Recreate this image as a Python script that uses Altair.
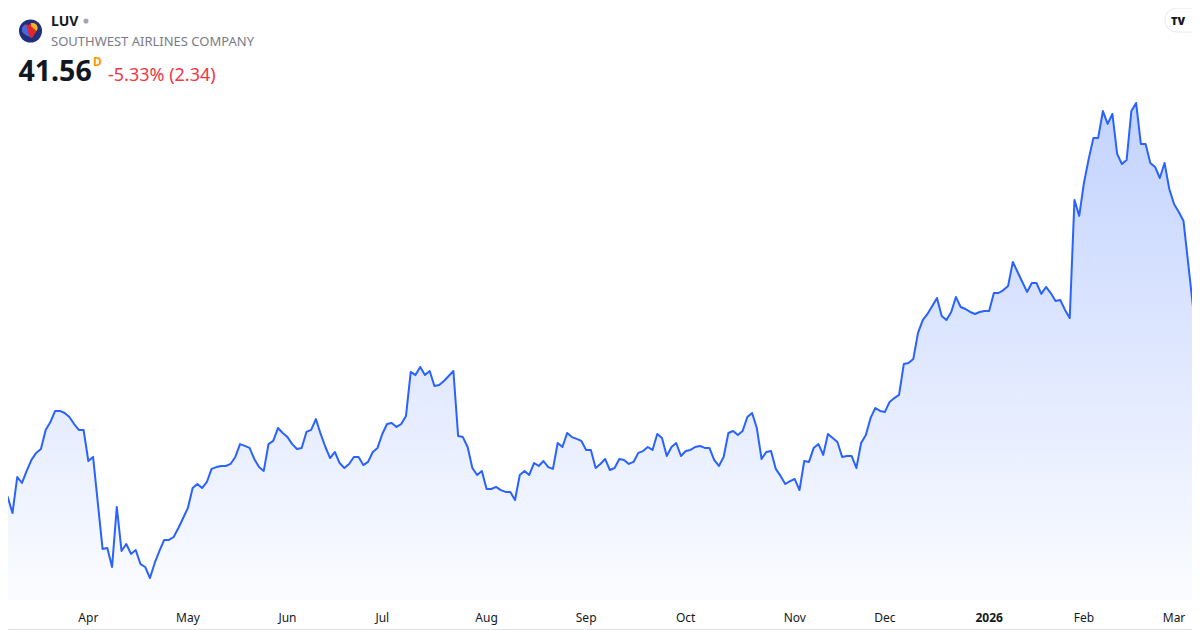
import altair as alt
import pandas as pd

# ---------------- data ----------------
ticker = "LUV"
company = "SOUTHWEST AIRLINES COMPANY"
last_price = "41.56"
session_flag = "D"
change_text = "-5.33% (2.34)"

start_date = "2025-03-06"
end_date = "2026-03-06"
market_holidays = ["2025-04-18", "2025-05-26", "2025-06-19", "2025-07-04", "2025-09-01",
                   "2025-11-27", "2025-12-25", "2026-01-01", "2026-01-19", "2026-02-16"]

month_labels = ["Apr", "May", "Jun", "Jul", "Aug", "Sep", "Oct", "Nov", "Dec", "2026", "Feb", "Mar"]
bold_labels = ["2026"]

prices = [
    31.45, 31.23, 30.36, 32.32, 32.00, 32.65, 33.25, 33.63, 33.84, 34.88,
    35.31, 35.91, 35.91, 35.80, 35.58, 35.20, 34.88, 34.88, 33.19, 33.41,
    30.91, 28.41, 28.46, 27.43, 30.69, 28.30, 28.68, 28.14, 28.35, 27.59,
    27.43, 26.83, 27.65, 28.30, 28.90, 28.90, 29.06, 29.55, 30.09, 30.64,
    31.72, 31.94, 31.72, 32.05, 32.76, 32.86, 32.92, 32.92, 33.03, 33.41,
    34.11, 34.01, 33.90, 33.30, 32.86, 32.65, 34.11, 34.28, 34.98, 34.71,
    34.49, 34.11, 33.84, 33.90, 34.77, 34.88, 35.47, 34.66, 33.95, 33.35,
    33.68, 33.08, 32.81, 33.03, 33.41, 33.41, 32.97, 33.14, 33.68, 33.90,
    34.66, 35.20, 35.26, 35.04, 35.20, 35.64, 38.03, 37.86, 38.30, 37.86,
    38.08, 37.27, 37.32, 37.54, 37.81, 38.08, 34.55, 34.49, 33.95, 32.81,
    32.43, 32.65, 31.67, 31.67, 31.78, 31.61, 31.51, 31.51, 31.07, 32.43,
    32.65, 32.43, 33.08, 32.92, 33.19, 32.86, 32.76, 34.17, 33.95, 34.71,
    34.49, 34.39, 34.28, 33.79, 33.79, 32.81, 33.03, 33.30, 32.70, 32.81,
    33.30, 33.25, 33.03, 33.14, 33.63, 33.73, 33.95, 33.79, 34.66, 34.44,
    33.46, 33.95, 34.17, 33.46, 33.73, 33.79, 33.95, 34.01, 33.90, 33.90,
    33.25, 32.92, 33.41, 34.71, 34.82, 34.60, 34.82, 35.58, 35.80, 34.98,
    33.30, 33.68, 33.73, 32.76, 32.38, 31.94, 32.10, 32.21, 31.61, 33.19,
    33.14, 33.90, 34.11, 33.52, 34.66, 34.44, 34.22, 33.41, 33.46, 33.46,
    32.81, 34.17, 34.60, 35.53, 36.07, 35.91, 35.85, 36.40, 36.61, 36.78,
    38.46, 38.52, 38.73, 40.15, 40.85, 41.18, 41.61, 42.05, 41.07, 40.85,
    41.29, 42.10, 41.56, 41.45, 41.29, 41.18, 41.29, 41.34, 41.34, 42.32,
    42.32, 42.48, 42.70, 44.01, 43.46, 42.92, 42.38, 42.86, 42.86, 42.27,
    42.65, 42.32, 41.89, 41.94, 41.40, 40.96, 47.38, 46.51, 48.30, 49.60,
    50.75, 50.75, 52.21, 51.51, 52.05, 49.88, 49.33, 49.55, 52.21, 52.65,
    50.42, 50.42, 49.39, 49.17, 48.57, 49.39, 47.97, 47.16, 46.72, 46.23,
    43.90, 41.56,
]

# ---------------- tables ----------------
dates = pd.bdate_range(start_date, end_date)
dates = dates[~dates.isin(pd.to_datetime(market_holidays))]
n = min(len(dates), len(prices))
df = pd.DataFrame({"idx": list(range(n)), "date": dates[:n], "price": prices[:n]})

month_start = df.groupby(df["date"].dt.to_period("M"))["idx"].min().tolist()[1:]
ticks = pd.DataFrame({"idx": month_start[:len(month_labels)], "label": month_labels[:len(month_start)]})
ticks["bold"] = ticks["label"].isin(bold_labels)

# page has an 8px margin: the drawing sits at (8, 8)
W, H = 1184, 622
O = 8
FONT = "Noto Sans"
BLUE = "#2962ff"

Y_TOP = 57.81
xscale = alt.Scale(domain=[1.0546, 250.79], nice=False, zero=False)
yscale = alt.Scale(domain=[24.005, Y_TOP], nice=False, zero=False)

x_enc = alt.X("idx:Q", scale=xscale, axis=None)
y_enc = alt.Y("price:Q", scale=yscale, axis=None)

base = alt.Chart(df)

# gradient band from the highest price down to the baseline, then masked above the line
fill_band = base.mark_rect(
    color=alt.Gradient(
        gradient="linear",
        stops=[alt.GradientStop(color="#c3d3ff", offset=0),
               alt.GradientStop(color="#fbfcff", offset=1)],
        x1=0, x2=0, y1=0, y2=1,
    ),
    opacity=1,
).encode(
    x=alt.value(-2), x2=alt.value(W + 2),
    y=alt.Y("max(price):Q", scale=yscale, axis=None),
    y2=alt.value(600 - O),
)

mask = base.mark_area(color="white", opacity=1, interpolate="linear").encode(
    x=x_enc, y=y_enc, y2=alt.datum(Y_TOP + 1)
)

line = base.mark_line(color=BLUE, strokeWidth=2, strokeJoin="round").encode(x=x_enc, y=y_enc)

tick_norm = alt.Chart(ticks).transform_filter("!datum.bold").mark_text(
    font=FONT, fontSize=12, color="#131722", align="center", baseline="alphabetic"
).encode(x=alt.X("idx:Q", scale=xscale, axis=None), y=alt.value(621.5 - O), text="label:N")

tick_bold = alt.Chart(ticks).transform_filter("datum.bold").mark_text(
    font=FONT, fontSize=12, fontWeight="bold", color="#131722", align="center", baseline="alphabetic"
).encode(x=alt.X("idx:Q", scale=xscale, axis=None), y=alt.value(621.5 - O), text="label:N")


def label(txt, x, y, size, color, weight="normal", align="left"):
    return alt.Chart(pd.DataFrame({"t": [txt]})).mark_text(
        font=FONT, fontSize=size, fontWeight=weight, color=color, align=align,
        baseline="alphabetic",
    ).encode(x=alt.value(x - O), y=alt.value(y - O), text="t:N")


one = pd.DataFrame({"k": [0]})

logo_circle = alt.Chart(one).mark_point(
    shape="circle", filled=True, size=530, color="#1f2f7c", opacity=1
).encode(x=alt.value(30.5 - O), y=alt.value(31 - O))

heart_path = ("M0,0.85 C-0.55,0.35 -1,0.05 -1,-0.38 C-1,-0.78 -0.62,-1 -0.32,-1 "
              "C-0.12,-1 0,-0.85 0,-0.72 C0,-0.85 0.12,-1 0.32,-1 C0.62,-1 1,-0.78 1,-0.38 "
              "C1,0.05 0.55,0.35 0,0.85 Z")
logo_heart = alt.Chart(one).mark_point(
    shape=heart_path, filled=True, size=250, color="#e1262d", opacity=1, angle=345
).encode(x=alt.value(30.5 - O), y=alt.value(31.5 - O))

left_path = "M0,0.85 C-0.55,0.35 -1,0.05 -1,-0.38 C-1,-0.78 -0.62,-1 -0.32,-1 L-0.3,0.5 Z"
logo_left = alt.Chart(one).mark_point(
    shape=left_path, filled=True, size=250, color="#4169e1", opacity=1, angle=345
).encode(x=alt.value(30.5 - O), y=alt.value(31.5 - O))

right_path = "M0.32,-1 C0.62,-1 1,-0.78 1,-0.38 C1,-0.15 0.9,0.02 0.75,0.15 L0.25,-0.6 Z"
logo_right = alt.Chart(one).mark_point(
    shape=right_path, filled=True, size=250, color="#f5b51f", opacity=1, angle=345
).encode(x=alt.value(30.5 - O), y=alt.value(31.5 - O))

status_dot = alt.Chart(one).mark_point(
    shape="circle", filled=True, size=26, color="#a3a6af", opacity=1
).encode(x=alt.value(86 - O), y=alt.value(21 - O))

tv_pill = alt.Chart(one).mark_rect(
    fill="white", stroke="#e6e8ee", strokeWidth=1, cornerRadius=12
).encode(x=alt.value(1165 - O), x2=alt.value(1212 - O), y=alt.value(8 - O), y2=alt.value(32 - O))

tv_text = label("TV", 1178, 24.5, 11, "#131722", weight=900, align="center")

bottom_edge = alt.Chart(one).mark_rule(color="#e0e3eb", strokeWidth=1).encode(
    x=alt.value(-O), x2=alt.value(W), y=alt.value(629.5 - O)
)

chart = alt.layer(
    fill_band, mask, line, tick_norm, tick_bold,
    logo_circle, logo_heart, logo_left, logo_right, status_dot,
    label(ticker, 51, 26, 14, "#131722", weight="bold"),
    label(company, 51, 45.5, 13, "#787b86"),
    label(last_price, 18.5, 80.5, 28.5, "#131722", weight="bold"),
    label(session_flag, 93, 66, 12, "#ff9800", weight="bold"),
    label(change_text, 108, 81, 18, "#f23645"),
    tv_pill, tv_text, bottom_edge,
).properties(
    width=W, height=H,
    autosize=alt.AutoSizeParams(type="none"),
    padding=0,
    background="white",
).configure_view(strokeWidth=0)

chart.save("out.html", embed_options={"renderer": "svg", "actions": False})
